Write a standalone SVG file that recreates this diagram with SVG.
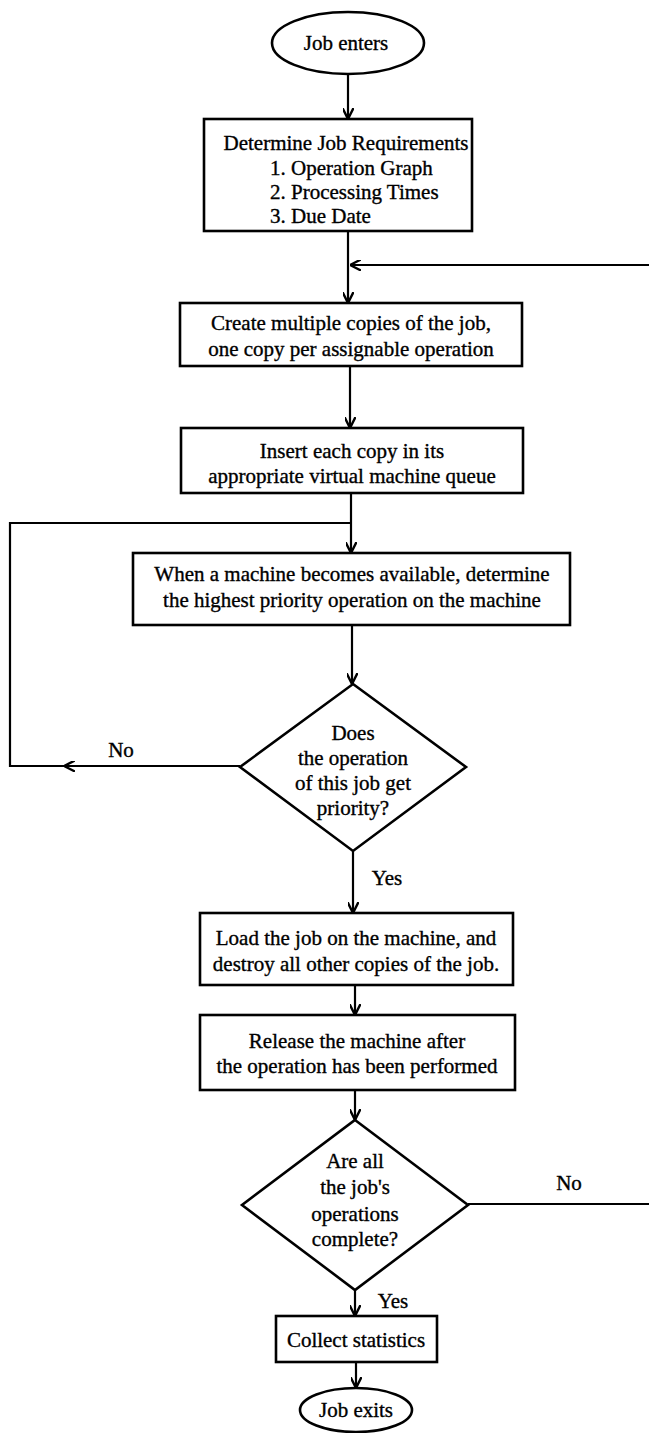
<svg xmlns="http://www.w3.org/2000/svg" width="649" height="1433" viewBox="0 0 649 1433">
<style>
.shape{fill:#fff;stroke:#000;stroke-width:2.6}
.ln{fill:none;stroke:#000;stroke-width:2.2}
text{font-family:"Liberation Serif","Times New Roman",serif;font-size:21px;fill:#000;stroke:#000;stroke-width:0.35}
.c{text-anchor:middle}
</style>
<defs>
<marker id="arr" viewBox="0 0 10 10" refX="10" refY="5" markerWidth="11" markerHeight="11" markerUnits="userSpaceOnUse" orient="auto">
<path d="M0,0 L10,5 L0,10" fill="none" stroke="#000" stroke-width="2.2"/>
</marker>
</defs>
<rect width="649" height="1433" fill="#fff"/>
<g id="connectors">
<path class="ln" d="M348,74 V119" marker-end="url(#arr)"/>
<path class="ln" d="M348,231 V303" marker-end="url(#arr)"/>
<path class="ln" d="M468,1204 H652 V265 H350" marker-end="url(#arr)"/>
<path class="ln" d="M350,366 V428" marker-end="url(#arr)"/>
<path class="ln" d="M351,493 V553" marker-end="url(#arr)"/>
<path class="ln" d="M240,766 H64" marker-end="url(#arr)"/>
<path class="ln" d="M66,766 H10 V523 H351"/>
<path class="ln" d="M352,625 V684" marker-end="url(#arr)"/>
<path class="ln" d="M353,851 V913" marker-end="url(#arr)"/>
<path class="ln" d="M355,985 V1015" marker-end="url(#arr)"/>
<path class="ln" d="M355,1090 V1120" marker-end="url(#arr)"/>
<path class="ln" d="M355,1290 V1316" marker-end="url(#arr)"/>
<path class="ln" d="M356,1362 V1388" marker-end="url(#arr)"/>
<text x="121" y="757" class="c">No</text>
<text x="387" y="885" class="c">Yes</text>
<text x="569" y="1190" class="c">No</text>
<text x="393" y="1308" class="c">Yes</text>
</g>
<g id="start">
<ellipse class="shape" cx="348" cy="43" rx="76" ry="31"/>
<text x="346" y="50" class="c">Job enters</text>
</g>
<g id="requirements">
<rect class="shape" x="204" y="119" width="268" height="112"/>
<text x="346" y="150" class="c">Determine Job Requirements</text>
<text x="270" y="175">1. Operation Graph</text>
<text x="270" y="199">2. Processing Times</text>
<text x="270" y="223">3. Due Date</text>
</g>
<g id="copies">
<rect class="shape" x="180" y="303" width="342" height="63"/>
<text x="351" y="330" class="c">Create multiple copies of the job,</text>
<text x="351" y="356" class="c">one copy per assignable operation</text>
</g>
<g id="insert">
<rect class="shape" x="181" y="428" width="342" height="65"/>
<text x="352" y="458" class="c">Insert each copy in its</text>
<text x="352" y="483" class="c">appropriate virtual machine queue</text>
</g>
<g id="machine-available">
<rect class="shape" x="133" y="553" width="437" height="72"/>
<text x="352" y="581" class="c">When a machine becomes available, determine</text>
<text x="352" y="607" class="c">the highest priority operation on the machine</text>
</g>
<g id="priority-decision">
<polygon class="shape" points="353,684 466,767 353,851 240,767"/>
<text x="353" y="740" class="c">Does</text>
<text x="353" y="765" class="c">the operation</text>
<text x="353" y="790" class="c">of this job get</text>
<text x="353" y="815" class="c">priority?</text>
</g>
<g id="load">
<rect class="shape" x="200" y="913" width="313" height="72"/>
<text x="356" y="945" class="c">Load the job on the machine, and</text>
<text x="356" y="971" class="c">destroy all other copies of the job.</text>
</g>
<g id="release">
<rect class="shape" x="200" y="1015" width="315" height="75"/>
<text x="357" y="1048" class="c">Release the machine after</text>
<text x="357" y="1073" class="c">the operation has been performed</text>
</g>
<g id="complete-decision">
<polygon class="shape" points="355,1120 468,1205 355,1290 242,1205"/>
<text x="355" y="1168" class="c">Are all</text>
<text x="355" y="1194" class="c">the job's</text>
<text x="355" y="1221" class="c">operations</text>
<text x="355" y="1246" class="c">complete?</text>
</g>
<g id="statistics">
<rect class="shape" x="276" y="1316" width="161" height="46"/>
<text x="356" y="1347" class="c">Collect statistics</text>
</g>
<g id="end">
<ellipse class="shape" cx="356" cy="1410" rx="56" ry="22"/>
<text x="356" y="1417" class="c">Job exits</text>
</g>
</svg>
